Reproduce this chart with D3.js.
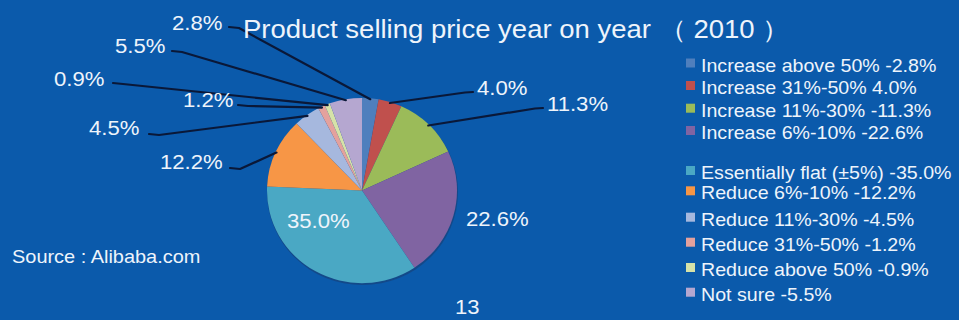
<!DOCTYPE html>
<html>
<head>
<meta charset="utf-8">
<script src="https://cdn.jsdelivr.net/npm/d3@7"></script>
<style>
  html, body { margin: 0; padding: 0; background: #0b5aab; }
  svg { display: block; }
  text { font-family: "Liberation Sans", Arial, sans-serif; fill: #eef4fb; }
</style>
</head>
<body>
<svg id="chart" width="959" height="320"></svg>
<script>
// ---- data ----
const categories = [
  "Increase above 50%", "Increase 31%-50%", "Increase 11%-30%", "Increase 6%-10%",
  "Essentially flat (±5%)", "Reduce 6%-10%", "Reduce 11%-30%", "Reduce 31%-50%",
  "Reduce above 50%", "Not sure"
];
const shares = [2.8, 4.0, 11.3, 22.6, 35.0, 12.2, 4.5, 1.2, 0.9, 5.5];
// legend entries carry a dash before the value, except the second one
const legendDash = [true, false, true, true, true, true, true, true, true, true];
const sliceColors = [
  "#4f7fbd", "#c0504d", "#9bbb59", "#8064a2", "#4aa8c4",
  "#f79646", "#a6b8de", "#e4a19d", "#d6e2a8", "#b5a7d0"
];
const titleText = "Product selling price year on year \uFF08 2010 \uFF09";
const sourceText = "Source : Alibaba.com";
const pageNumber = "13";

// ---- layout ----
const W = 959, H = 320;
const cx = 362, cy = 190.5, R = 95, squashY = 0.975;
const stretch = 1.1;
// where each slice label sits: text x / baseline y, and where its leader line starts
const labelLayout = [
  { x: 172, y: 30,  lx: 229, ly: 27 },
  { x: 477, y: 95,  lx: 473, ly: 92, right: true },
  { x: 547, y: 111, lx: 543, ly: 108, right: true },
  { x: 466, y: 226, none: true },
  { x: 287, y: 228, none: true },
  { x: 160, y: 169, lx: 230, ly: 168 },
  { x: 89,  y: 135, lx: 149, ly: 134 },
  { x: 183, y: 107, lx: 238, ly: 105 },
  { x: 54,  y: 86,  lx: 113, ly: 83 },
  { x: 115, y: 53,  lx: 172, ly: 51 }
];
const legendBaselines = [71.5, 94, 116.7, 139, 179, 199.3, 225.7, 250.7, 276, 300.7];

const svg = d3.select("#chart");
svg.append("rect").attr("width", W).attr("height", H).attr("fill", "#0b5aab");

function stretchedText(g, x, y, str, size, sx) {
  return g.append("text")
    .attr("transform", `translate(${x},${y}) scale(${sx},1)`)
    .attr("font-size", size)
    .text(str);
}

// ---- pie ----
const pie = d3.pie().sort(null).value(d => d)(shares);
const arc = d3.arc().innerRadius(0).outerRadius(R);
const color = d3.scaleOrdinal().domain(categories).range(sliceColors);

const pieG = svg.append("g")
  .attr("transform", `translate(${cx},${cy}) scale(1,${squashY})`);

// soft dark rim under the pie
pieG.append("ellipse")
  .attr("cx", 0.5).attr("cy", 1.5).attr("rx", R + 0.5).attr("ry", R + 0.5)
  .attr("fill", "#17427a").attr("opacity", 0.7);

pieG.selectAll("path.slice")
  .data(pie)
  .join("path")
  .attr("class", "slice")
  .attr("d", arc)
  .attr("fill", (d, i) => color(categories[i]));

// ---- leader lines ----
const fmt = v => d3.format(".1f")(v) + "%";
function edgePoint(d, rr) {
  const a = (d.startAngle + d.endAngle) / 2;
  return [cx + rr * Math.sin(a), cy - rr * squashY * Math.cos(a)];
}
const line = d3.line().curve(d3.curveLinear);
const leaderG = svg.append("g");
pie.forEach((d, i) => {
  const L = labelLayout[i];
  if (L.none) return;
  const edge = edgePoint(d, R - 1);
  const stub = L.right ? [L.lx - 8, L.ly + 0.5] : [L.lx + 10, L.ly + 1];
  leaderG.append("path")
    .attr("d", line([[L.lx, L.ly], stub, edge]))
    .attr("fill", "none")
    .attr("stroke", "#0a1838")
    .attr("stroke-width", 2.2)
    .attr("stroke-linejoin", "round")
    .attr("stroke-linecap", "round");
});

// ---- slice labels ----
const labelG = svg.append("g");
pie.forEach((d, i) => {
  const L = labelLayout[i];
  stretchedText(labelG, L.x, L.y, fmt(shares[i]), 20.5, 1.08);
});

// ---- title ----
stretchedText(svg, 243, 38, titleText, 25, stretch);

// ---- legend ----
const legendG = svg.append("g");
categories.forEach((c, i) => {
  const y = legendBaselines[i];
  legendG.append("rect")
    .attr("x", 686).attr("y", y - 13)
    .attr("width", 9).attr("height", 9)
    .attr("fill", color(c));
  stretchedText(legendG, 701, y, `${c} ${legendDash[i] ? "-" : ""}${fmt(shares[i])}`, 18, 1.09);
});

// ---- source and page number ----
stretchedText(svg, 12, 263, sourceText, 19, 1.05);
stretchedText(svg, 455, 314, pageNumber, 20, 1.1);
</script>
</body>
</html>
